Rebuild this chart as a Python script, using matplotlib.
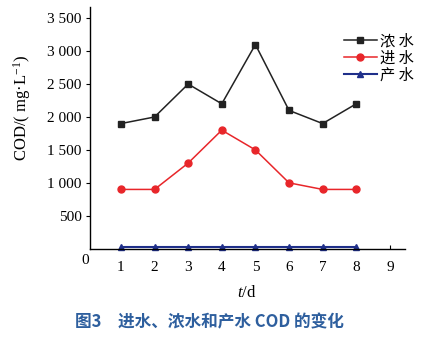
import matplotlib
matplotlib.use("Agg")
import matplotlib.pyplot as plt

plt.rcParams["mathtext.fontset"] = "custom"
plt.rcParams["mathtext.rm"] = "Liberation Serif"
plt.rcParams["mathtext.it"] = "Liberation Serif:italic"
plt.rcParams["mathtext.default"] = "regular"

days = [1, 2, 3, 4, 5, 6, 7, 8]
concentrate = [1900, 2000, 2500, 2200, 3100, 2100, 1900, 2200]
feed = [900, 900, 1300, 1800, 1500, 1000, 900, 900]
product = [20, 20, 20, 20, 20, 20, 20, 20]
series_names = ["浓 水", "进 水", "产 水"]
x_ticks = [1, 2, 3, 4, 5, 6, 7, 8, 9]
y_ticks = [500, 1000, 1500, 2000, 2500, 3000, 3500]
y_ticklabels = ["500", "1 000", "1 500", "2 000", "2 500", "3 000", "3 500"]

W, H = 427, 337
fig = plt.figure(figsize=(W / 100, H / 100), dpi=100)
ax = fig.add_axes([90 / W, 1 - 248.7 / H, (405 - 90) / W, (248.7 - 7) / H])

serif = ["Liberation Serif", "DejaVu Serif"]
cjk = ["Noto Sans CJK SC", "DejaVu Sans"]

l1, = ax.plot(days, concentrate, color="#222222", marker="s", ms=4.5, lw=1.1, label=series_names[0])
l2, = ax.plot(days, feed, color="#e8262a", marker="o", ms=5, lw=1.1, label=series_names[1])
l3, = ax.plot(days, product, color="#1f2f8a", marker="^", ms=5, lw=1.5, label=series_names[2], clip_on=False)

ax.set_xlim(0.08, 9.45)
ax.set_ylim(0, 3670)
ax.set_xticks(x_ticks)
ax.set_xticklabels([str(v) for v in x_ticks], fontfamily=serif, fontsize=11)
ax.set_yticks(y_ticks)
ax.set_yticklabels(y_ticklabels, fontfamily=serif, fontsize=11)
ax.tick_params(axis="x", direction="in", length=3, pad=9)
ax.tick_params(axis="y", direction="out", length=3, pad=3)
ax.spines["top"].set_visible(False)
ax.spines["right"].set_visible(False)
for s in ("left", "bottom"):
    ax.spines[s].set_linewidth(1.0)

fig.text(85 / W, 1 - 260 / H, "0", ha="center", va="center", fontfamily=serif, fontsize=11)
fig.text(22 / W, 1 - 108 / H, "COD/( mg\u00b7L$^{-1}$)", rotation=90, ha="center", va="center",
         fontfamily=serif, fontsize=12)
fig.text(247 / W, 1 - 293 / H, r"$\mathit{t}$/d", ha="center", va="center", fontfamily=serif, fontsize=12)
fig.text(209 / W, 1 - 322 / H, "图3　进水、浓水和产水 COD 的变化", ha="center", va="center",
         fontfamily=cjk, fontsize=12, color="#2e5f9e", fontweight="bold")

leg = ax.legend(handles=[l1, l2, l3], loc="upper left", frameon=False, prop={"family": cjk, "size": 11},
                handlelength=2.2, handletextpad=0.2, labelspacing=0.0, borderpad=0.0)
leg.set_bbox_to_anchor((336 / W, 1 - 25 / H), transform=fig.transFigure)

fig.savefig("out.png", dpi=100)
